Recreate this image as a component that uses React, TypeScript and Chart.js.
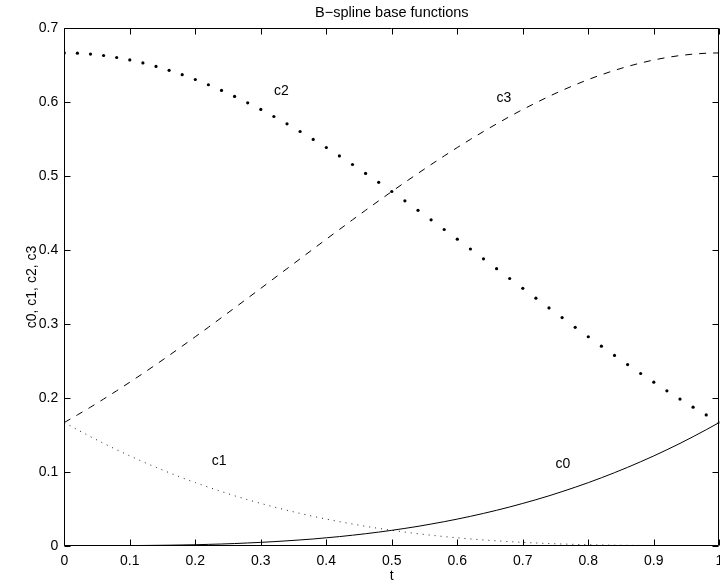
import React, { useEffect, useRef } from "react";
import { Chart, registerables } from "chart.js";

Chart.register(...registerables);

const T = [
  0, 0.02, 0.04, 0.06, 0.08, 0.1, 0.12, 0.14, 0.16, 0.18,
  0.2, 0.22, 0.24, 0.26, 0.28, 0.3, 0.32, 0.34, 0.36, 0.38,
  0.4, 0.42, 0.44, 0.46, 0.48, 0.5, 0.52, 0.54, 0.56, 0.58,
  0.6, 0.62, 0.64, 0.66, 0.68, 0.7, 0.72, 0.74, 0.76, 0.78,
  0.8, 0.82, 0.84, 0.86, 0.88, 0.9, 0.92, 0.94, 0.96, 0.98, 1,
];

const C0 = [
  0, 0, 0, 0, 0.0001, 0.0002, 0.0003, 0.0005, 0.0007, 0.001,
  0.0013, 0.0018, 0.0023, 0.0029, 0.0037, 0.0045, 0.0055, 0.0066, 0.0078, 0.0091,
  0.0107, 0.0123, 0.0142, 0.0162, 0.0184, 0.0208, 0.0234, 0.0262, 0.0293, 0.0325,
  0.036, 0.0397, 0.0437, 0.0479, 0.0524, 0.0572, 0.0622, 0.0675, 0.0732, 0.0791,
  0.0853, 0.0919, 0.0988, 0.106, 0.1136, 0.1215, 0.1298, 0.1384, 0.1475, 0.1569, 0.1667,
];

const C1 = [
  0.1667, 0.1569, 0.1475, 0.1384, 0.1298, 0.1215, 0.1136, 0.106, 0.0988, 0.0919,
  0.0853, 0.0791, 0.0732, 0.0675, 0.0622, 0.0572, 0.0524, 0.0479, 0.0437, 0.0397,
  0.036, 0.0325, 0.0293, 0.0262, 0.0234, 0.0208, 0.0184, 0.0162, 0.0142, 0.0123,
  0.0107, 0.0091, 0.0078, 0.0066, 0.0055, 0.0045, 0.0037, 0.0029, 0.0023, 0.0018,
  0.0013, 0.001, 0.0007, 0.0005, 0.0003, 0.0002, 0.0001, 0, 0, 0, 0,
];

const C2 = [
  0.6667, 0.6663, 0.6651, 0.6632, 0.6605, 0.6572, 0.6531, 0.6484, 0.6431, 0.6372,
  0.6307, 0.6236, 0.616, 0.6079, 0.5992, 0.5902, 0.5807, 0.5707, 0.5604, 0.5497,
  0.5387, 0.5273, 0.5157, 0.5037, 0.4916, 0.4792, 0.4666, 0.4538, 0.4409, 0.4278,
  0.4147, 0.4014, 0.3881, 0.3748, 0.3615, 0.3482, 0.3349, 0.3217, 0.3086, 0.2955,
  0.2827, 0.27, 0.2574, 0.2451, 0.233, 0.2212, 0.2096, 0.1984, 0.1874, 0.1769, 0.1667,
];

const C3 = [
  0.1667, 0.1769, 0.1874, 0.1984, 0.2096, 0.2212, 0.233, 0.2451, 0.2574, 0.27,
  0.2827, 0.2955, 0.3086, 0.3217, 0.3349, 0.3482, 0.3615, 0.3748, 0.3881, 0.4014,
  0.4147, 0.4278, 0.4409, 0.4538, 0.4666, 0.4792, 0.4916, 0.5037, 0.5157, 0.5273,
  0.5387, 0.5497, 0.5604, 0.5707, 0.5807, 0.5902, 0.5992, 0.6079, 0.616, 0.6236,
  0.6307, 0.6372, 0.6431, 0.6484, 0.6531, 0.6572, 0.6605, 0.6632, 0.6651, 0.6663, 0.6667,
];

const X_TICKS = [0, 0.1, 0.2, 0.3, 0.4, 0.5, 0.6, 0.7, 0.8, 0.9, 1];
const X_TICK_LABELS = ["0", "0.1", "0.2", "0.3", "0.4", "0.5", "0.6", "0.7", "0.8", "0.9", "1"];
const Y_TICKS = [0, 0.1, 0.2, 0.3, 0.4, 0.5, 0.6, 0.7];

const LABEL_TEXT = ["c2", "c3", "c1", "c0"];
const LABEL_X = [0.32, 0.66, 0.225, 0.75];
const LABEL_Y = [0.615, 0.605, 0.115, 0.11];

const TITLE = "B\u2212spline base functions";
const X_TITLE = "t";
const Y_TITLE = "c0, c1, c2, c3";

const FONT = "'Liberation Sans', Arial, Helvetica, sans-serif";

const toPts = (ys: number[]) => T.map((t, i) => ({ x: t, y: ys[i] }));
const fmt = (v: number) => String(Number(Number(v).toFixed(1)));

const boxPlugin = {
  id: "matlabBox",
  afterDraw(chart: any) {
    const { ctx, chartArea } = chart;
    const xs = chart.scales.x;
    const ys = chart.scales.y;
    const L = Math.round(chartArea.left) + 0.5;
    const R = Math.round(chartArea.right) - 0.5;
    const Tp = Math.round(chartArea.top) + 0.5;
    const B = Math.round(chartArea.bottom) - 0.5;
    const tl = 6;
    ctx.save();
    ctx.strokeStyle = "#000";
    ctx.lineWidth = 1;
    ctx.beginPath();
    ctx.rect(L, Tp, R - L, B - Tp);
    X_TICKS.forEach((v) => {
      const px = Math.round(xs.getPixelForValue(v)) + 0.5;
      ctx.moveTo(px, B);
      ctx.lineTo(px, B - tl);
      ctx.moveTo(px, Tp);
      ctx.lineTo(px, Tp + tl);
    });
    Y_TICKS.forEach((v) => {
      const py = Math.round(ys.getPixelForValue(v)) + 0.5;
      ctx.moveTo(L, py);
      ctx.lineTo(L + tl, py);
      ctx.moveTo(R, py);
      ctx.lineTo(R - tl, py);
    });
    ctx.stroke();
    ctx.fillStyle = "#000";
    ctx.font = `14px ${FONT}`;
    // x tick labels
    ctx.textAlign = "center";
    ctx.textBaseline = "alphabetic";
    X_TICKS.forEach((v, i) => {
      ctx.fillText(X_TICK_LABELS[i], xs.getPixelForValue(v), chartArea.bottom + 19.2);
    });
    // in-plot curve labels
    ctx.textAlign = "left";
    ctx.textBaseline = "middle";
    LABEL_TEXT.forEach((txt, i) => {
      ctx.fillText(txt, xs.getPixelForValue(LABEL_X[i]), ys.getPixelForValue(LABEL_Y[i]));
    });
    ctx.restore();
  },
};

export default function App() {
  const ref = useRef<HTMLCanvasElement | null>(null);

  useEffect(() => {
    if (!ref.current) return;
    const tickFont = { family: FONT, size: 14 };
    const chart = new Chart(ref.current, {
      type: "line",
      data: {
        datasets: [
          {
            label: "c0",
            data: toPts(C0),
            borderColor: "#000",
            borderWidth: 1,
            pointRadius: 0,
            pointHoverRadius: 0,
            fill: false,
          },
          {
            label: "c1",
            data: toPts(C1),
            borderColor: "#222",
            borderWidth: 1,
            borderDash: [1, 5],
            pointRadius: 0,
            pointHoverRadius: 0,
            fill: false,
          },
          {
            label: "c2",
            data: toPts(C2),
            showLine: false,
            pointRadius: 1.6,
            pointHoverRadius: 1.6,
            pointBackgroundColor: "#000",
            pointBorderWidth: 0,
            borderColor: "#000",
          },
          {
            label: "c3",
            data: toPts(C3),
            borderColor: "#000",
            borderWidth: 1,
            borderDash: [7, 7],
            pointRadius: 0,
            pointHoverRadius: 0,
            fill: false,
          },
        ],
      },
      options: {
        responsive: false,
        animation: false,
        devicePixelRatio: 1,
        events: [],
        layout: { autoPadding: false, padding: { left: 0, top: 0, bottom: 0, right: 0.7 } },
        plugins: {
          legend: { display: false },
          tooltip: { enabled: false },
          title: {
            display: true,
            fullSize: false,
            text: TITLE,
            color: "#000",
            font: { family: FONT, size: 14.5, weight: "normal" },
            padding: { top: 4, bottom: 6.9 },
          },
        },
        scales: {
          x: {
            type: "linear",
            min: 0,
            max: 1,
            afterBuildTicks: (s: any) => {
              s.ticks = X_TICKS.map((v) => ({ value: v }));
            },
            afterFit: (s: any) => {
              s.height = 36.3;
            },
            ticks: { display: false },
            grid: { display: false, drawTicks: false },
            border: { display: false },
            title: {
              display: true,
              text: X_TITLE,
              color: "#000",
              font: tickFont,
              padding: { top: 0, bottom: -2.5 },
            },
          },
          y: {
            type: "linear",
            min: 0,
            max: 0.7,
            afterBuildTicks: (s: any) => {
              s.ticks = Y_TICKS.map((v) => ({ value: v }));
            },
            afterFit: (s: any) => {
              s.width = 64.3;
            },
            ticks: {
              color: "#000",
              font: tickFont,
              padding: 6,
              autoSkip: false,
              callback: (v: any) => fmt(v),
            },
            grid: { display: false, drawTicks: false },
            border: { display: false },
            title: {
              display: true,
              text: Y_TITLE,
              color: "#000",
              font: tickFont,
              padding: { top: 23.6, bottom: 0 },
            },
          },
        },
      },
      plugins: [boxPlugin],
    } as any);
    return () => chart.destroy();
  }, []);

  return (
    <div
      style={{
        position: "fixed",
        left: 0,
        top: 0,
        width: 720,
        height: 582,
        background: "#fff",
      }}
    >
      <canvas ref={ref} width={720} height={582} style={{ display: "block" }} />
    </div>
  );
}
